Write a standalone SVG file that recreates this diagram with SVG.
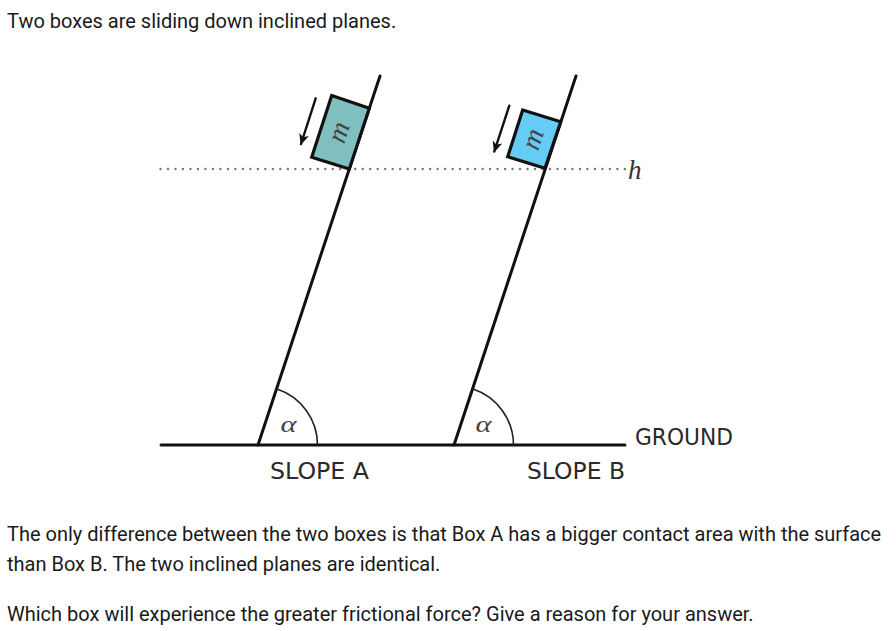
<svg xmlns="http://www.w3.org/2000/svg" width="896" height="631" viewBox="0 0 896 631">
<style>
.p{font-family:Roboto,"Liberation Sans",sans-serif;font-size:20px;fill:#1a1a1a}
.l{font-family:"DejaVu Sans",sans-serif;font-size:23px;fill:#2a2a2a}
.m{font-family:"Liberation Serif",serif;font-style:italic;font-size:28px;fill:#444;text-anchor:middle}
.g{font-family:"Liberation Serif",serif;font-style:italic;font-size:23px;fill:#444}
.h{font-family:"Liberation Serif",serif;font-style:italic;font-size:27px;fill:#333}
.s{fill:none;stroke:#111;stroke-width:3;stroke-linecap:round}
.r{fill:none;stroke:#111;stroke-width:2.4;stroke-linecap:round}
.b{stroke:#111;stroke-width:3.2;stroke-linejoin:miter}
.a{fill:none;stroke:#222;stroke-width:1.6}
.d{fill:none;stroke:#777;stroke-width:2.4;stroke-linecap:round;stroke-dasharray:0.01 7.48}
</style>
<defs>
<marker id="ah" markerUnits="userSpaceOnUse" markerWidth="14" markerHeight="14" refX="10" refY="5" orient="auto"><path d="M0 0L11 5L0 10L3 5Z" fill="#111"/></marker>
</defs>
<rect width="896" height="631" fill="#fff"/>
<text class="p" x="7" y="28">Two boxes are sliding down inclined planes.</text>
<g id="connectors">
<line class="d" x1="160.5" y1="169" x2="626" y2="169"/>
<line class="s" x1="161" y1="445" x2="625" y2="445"/>
<line class="s" x1="258" y1="445" x2="380" y2="76"/>
<line class="s" x1="454" y1="445" x2="576" y2="76"/>
<line class="r" x1="315.7" y1="98.3" x2="301" y2="144" marker-end="url(#ah)"/>
<line class="r" x1="509.3" y1="105.7" x2="494.3" y2="151.5" marker-end="url(#ah)"/>
<path class="a" d="M277 389A59 59 0 0 1 317.5 445"/>
<path class="a" d="M473 389A59 59 0 0 1 513.5 445"/>
</g>
<g id="box-a">
<polygon class="b" fill="#80bfbf" points="331.7,95.5 369.3,108.3 349.3,169 311.7,157.3"/>
<text class="m" transform="translate(347,135) rotate(-72)">m</text>
</g>
<g id="box-b">
<polygon class="b" fill="#66ccf5" points="522.7,110 560.7,121.7 545,168.3 507.7,156.7"/>
<text class="m" transform="translate(541,142) rotate(-72)">m</text>
</g>
<g id="labels">
<text class="h" x="628" y="179">h</text>
<text class="g" x="280.5" y="432" textLength="16" lengthAdjust="spacingAndGlyphs">α</text>
<text class="g" x="475.5" y="432" textLength="16" lengthAdjust="spacingAndGlyphs">α</text>
<text class="l" x="270" y="479" textLength="99" lengthAdjust="spacingAndGlyphs">SLOPE A</text>
<text class="l" x="527" y="479" textLength="98" lengthAdjust="spacingAndGlyphs">SLOPE B</text>
<text class="l" x="635" y="445" textLength="98" lengthAdjust="spacingAndGlyphs">GROUND</text>
</g>
<text class="p" x="7" y="541">The only difference between the two boxes is that Box A has a bigger contact area with the surface</text>
<text class="p" x="7" y="571">than Box B. The two inclined planes are identical.</text>
<text class="p" x="7" y="621">Which box will experience the greater frictional force? Give a reason for your answer.</text>
</svg>
